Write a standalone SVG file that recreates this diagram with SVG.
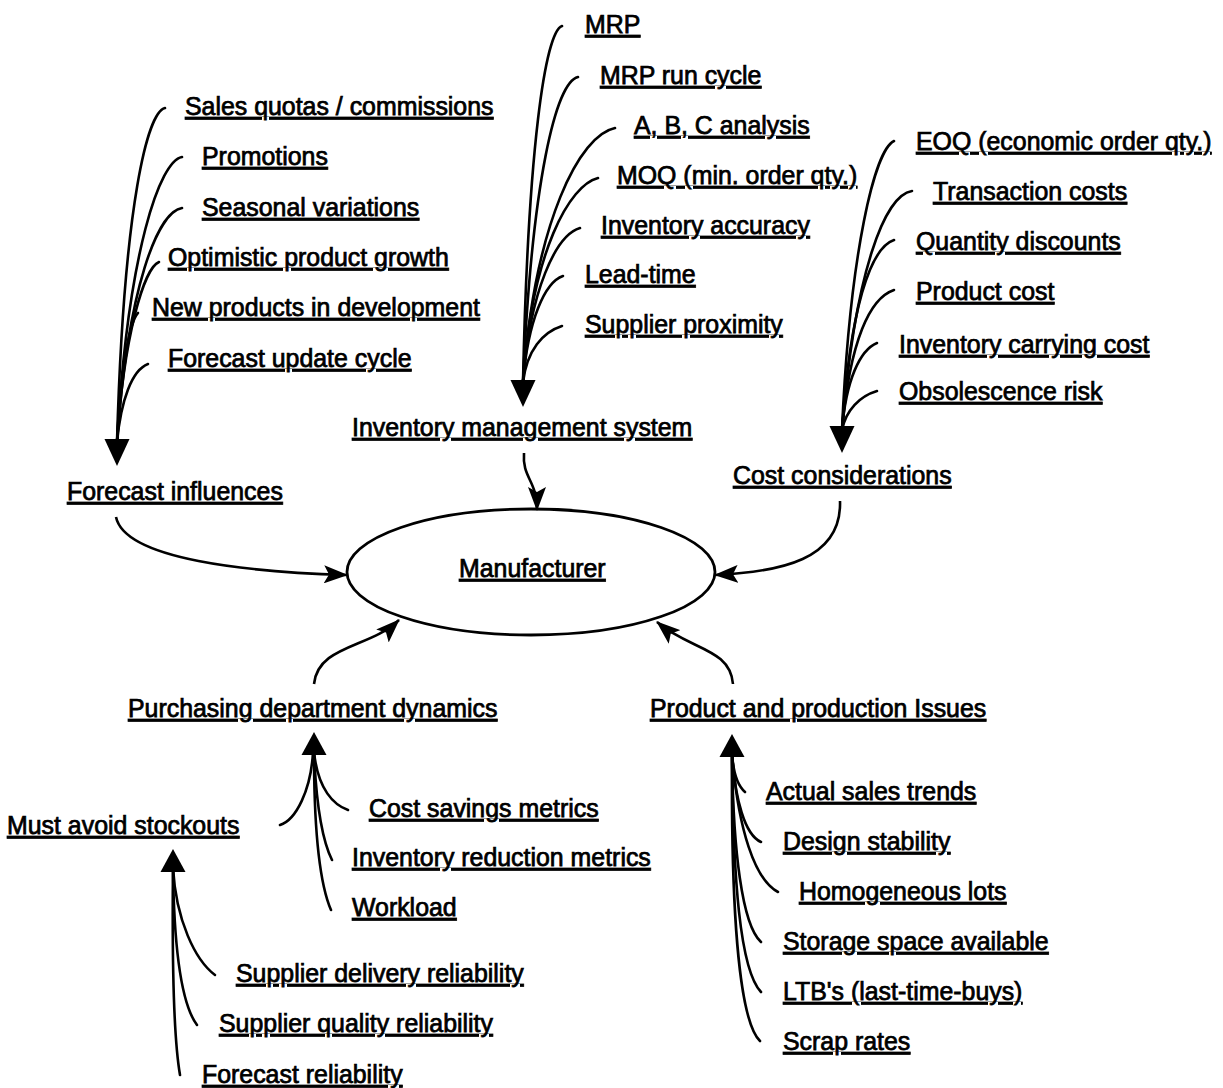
<svg xmlns="http://www.w3.org/2000/svg" width="1223" height="1088" viewBox="0 0 1223 1088">
  <style>
    .lbl { font-family: "Liberation Sans", Arial, sans-serif; font-size: 24.9px; fill: #000; stroke: #000; stroke-width: 0.75px; text-decoration: underline; text-decoration-thickness: 2px; }
    .feed { fill: none; stroke: #000; stroke-width: 2.6; stroke-linecap: round; }
    .link { fill: none; stroke: #000; stroke-width: 2.6; marker-end: url(#tip); }
    .shape { fill: #fff; stroke: #000; stroke-width: 2.8; }
  </style>
  <defs>
    <!-- small arrowhead for the links into the central ellipse -->
    <marker id="tip" markerUnits="userSpaceOnUse" markerWidth="24" markerHeight="18" viewBox="0 0 24 18" refX="23" refY="9" orient="auto">
      <path d="M0,0 L24,9 L0,18 L5,9 z" fill="#000"/>
    </marker>
    <!-- large arrowheads where the feeder curves converge -->
    <path id="headDown" d="M-12.5,0 L12.5,0 L0,27 z" fill="#000"/>
    <path id="headUp" d="M-12.5,0 L12.5,0 L0,-23 z" fill="#000"/>
  </defs>

  <!-- central node -->
  <g id="manufacturer">
    <ellipse class="shape" cx="531" cy="572" rx="184" ry="63"/>
    <text class="lbl" x="459" y="577">Manufacturer</text>
  </g>

  <!-- top-left group -->
  <g id="forecast-influences">
    <text class="lbl" x="67" y="500">Forecast influences</text>
  </g>
  <g id="sales-quotas"><text class="lbl" x="185" y="115">Sales quotas / commissions</text></g>
  <g id="promotions"><text class="lbl" x="202" y="165">Promotions</text></g>
  <g id="seasonal"><text class="lbl" x="202" y="216">Seasonal variations</text></g>
  <g id="optimistic"><text class="lbl" x="168" y="266">Optimistic product growth</text></g>
  <g id="new-products"><text class="lbl" x="152" y="316">New products in development</text></g>
  <g id="forecast-cycle"><text class="lbl" x="168" y="367">Forecast update cycle</text></g>

  <!-- top-middle group -->
  <g id="inventory-system">
    <text class="lbl" x="352" y="436">Inventory management system</text>
  </g>
  <g id="mrp"><text class="lbl" x="585" y="33">MRP</text></g>
  <g id="mrp-cycle"><text class="lbl" x="600" y="84">MRP run cycle</text></g>
  <g id="abc"><text class="lbl" x="634" y="134">A, B, C analysis</text></g>
  <g id="moq"><text class="lbl" x="617" y="184">MOQ (min. order qty.)</text></g>
  <g id="inv-accuracy"><text class="lbl" x="601" y="234">Inventory accuracy</text></g>
  <g id="lead-time"><text class="lbl" x="585" y="283">Lead-time</text></g>
  <g id="supplier-proximity"><text class="lbl" x="585" y="333">Supplier proximity</text></g>

  <!-- top-right group -->
  <g id="cost-considerations">
    <text class="lbl" x="733" y="484">Cost considerations</text>
  </g>
  <g id="eoq"><text class="lbl" x="916" y="150">EOQ (economic order qty.)</text></g>
  <g id="transaction"><text class="lbl" x="933" y="200">Transaction costs</text></g>
  <g id="quantity-discounts"><text class="lbl" x="916" y="250">Quantity discounts</text></g>
  <g id="product-cost"><text class="lbl" x="916" y="300">Product cost</text></g>
  <g id="carrying-cost"><text class="lbl" x="899" y="353">Inventory carrying cost</text></g>
  <g id="obsolescence"><text class="lbl" x="899" y="400">Obsolescence risk</text></g>

  <!-- bottom-left group -->
  <g id="purchasing">
    <text class="lbl" x="128" y="717">Purchasing department dynamics</text>
  </g>
  <g id="cost-savings"><text class="lbl" x="369" y="817">Cost savings metrics</text></g>
  <g id="inv-reduction"><text class="lbl" x="352" y="866">Inventory reduction metrics</text></g>
  <g id="workload"><text class="lbl" x="352" y="916">Workload</text></g>
  <g id="stockouts"><text class="lbl" x="7" y="834">Must avoid stockouts</text></g>
  <g id="delivery-rel"><text class="lbl" x="236" y="982">Supplier delivery reliability</text></g>
  <g id="quality-rel"><text class="lbl" x="219" y="1032">Supplier quality reliability</text></g>
  <g id="forecast-rel"><text class="lbl" x="202" y="1083">Forecast reliability</text></g>

  <!-- bottom-right group -->
  <g id="production-issues">
    <text class="lbl" x="650" y="717">Product and production Issues</text>
  </g>
  <g id="sales-trends"><text class="lbl" x="766" y="800">Actual sales trends</text></g>
  <g id="design-stability"><text class="lbl" x="783" y="850">Design stability</text></g>
  <g id="homogeneous"><text class="lbl" x="799" y="900">Homogeneous lots</text></g>
  <g id="storage"><text class="lbl" x="783" y="950">Storage space available</text></g>
  <g id="ltb"><text class="lbl" x="783" y="1000">LTB's (last-time-buys)</text></g>
  <g id="scrap"><text class="lbl" x="783" y="1050">Scrap rates</text></g>

  <!-- connectors -->
  <g id="connectors">
    <!-- feeders into Forecast influences -->
    <path class="feed" d="M165,108 C148,112 124,200 117,442"/>
    <path class="feed" d="M182,157 C160,161 128,250 117,442"/>
    <path class="feed" d="M182,208 C158,212 128,285 117,442"/>
    <path class="feed" d="M159,262 C144,268 124,335 117,442"/>
    <path class="feed" d="M138,313 C128,324 120,380 117,442"/>
    <path class="feed" d="M148,364 C132,370 121,400 117,442"/>
    <use href="#headDown" x="117" y="439"/>

    <!-- feeders into Inventory management system -->
    <path class="feed" d="M562,26 C545,32 528,150 523,382"/>
    <path class="feed" d="M578,77 C556,82 532,180 523,382"/>
    <path class="feed" d="M615,128 C580,135 535,220 523,382"/>
    <path class="feed" d="M598,178 C570,185 532,250 523,382"/>
    <path class="feed" d="M580,228 C556,235 530,290 523,382"/>
    <path class="feed" d="M563,276 C545,282 528,320 523,382"/>
    <path class="feed" d="M562,326 C543,332 527,350 523,382"/>
    <use href="#headDown" x="523" y="380"/>

    <!-- feeders into Cost considerations -->
    <path class="feed" d="M894,141 C875,150 850,250 842,430"/>
    <path class="feed" d="M912,191 C885,195 855,270 842,430"/>
    <path class="feed" d="M894,240 C870,248 850,310 842,430"/>
    <path class="feed" d="M894,290 C870,298 850,340 842,430"/>
    <path class="feed" d="M877,343 C860,350 846,380 842,430"/>
    <path class="feed" d="M877,391 C860,396 846,410 842,430"/>
    <use href="#headDown" x="842" y="426"/>

    <!-- feeders into Purchasing department dynamics -->
    <path class="feed" d="M280,825 C296,820 311,790 313,752"/>
    <path class="feed" d="M348,810 C334,805 318,790 314,752"/>
    <path class="feed" d="M332,860 C322,840 316,800 314,752"/>
    <path class="feed" d="M331,910 C318,880 314,820 314,752"/>
    <use href="#headUp" x="314" y="755"/>

    <!-- feeders into Must avoid stockouts -->
    <path class="feed" d="M215,975 C195,960 176,920 173,868"/>
    <path class="feed" d="M197,1025 C182,1005 174,950 173,868"/>
    <path class="feed" d="M180,1075 C174,1040 172,960 173,868"/>
    <use href="#headUp" x="173" y="872"/>

    <!-- feeders into Product and production Issues -->
    <path class="feed" d="M745,792 C737,785 733,770 732,753"/>
    <path class="feed" d="M761,842 C745,835 735,800 732,753"/>
    <path class="feed" d="M778,892 C755,880 738,830 732,753"/>
    <path class="feed" d="M761,942 C742,925 733,850 732,753"/>
    <path class="feed" d="M761,992 C740,970 733,880 732,753"/>
    <path class="feed" d="M760,1041 C738,1020 731,900 732,753"/>
    <use href="#headUp" x="732" y="757"/>

    <!-- links into Manufacturer -->
    <path class="link" d="M116,517 C125,560 250,572 347,575"/>
    <path class="link" d="M524,453 C522,478 537,480 537,510"/>
    <path class="link" d="M840,501 C842,560 780,572 715,575"/>
    <path class="link" d="M314,684 C318,645 370,648 399,620"/>
    <path class="link" d="M733,684 C730,648 690,650 657,622"/>
  </g>
</svg>
